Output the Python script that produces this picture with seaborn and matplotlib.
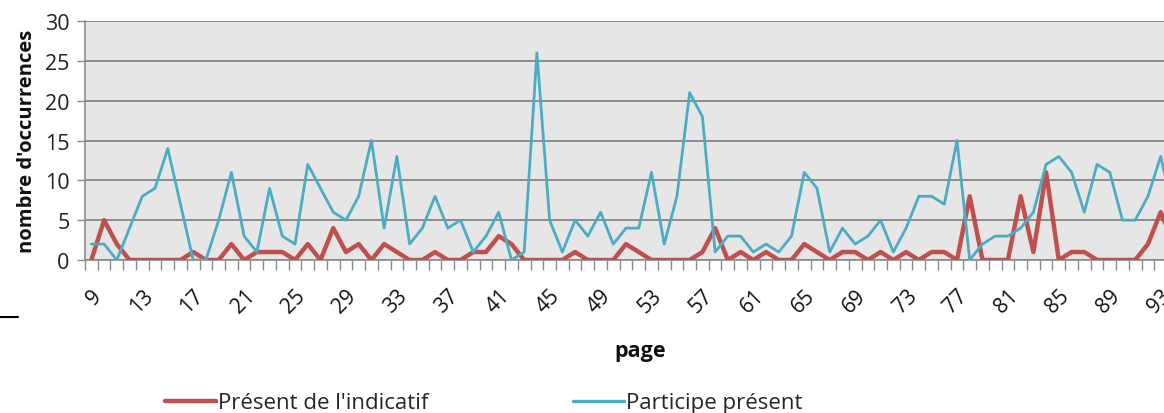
import matplotlib
matplotlib.use("Agg")
import matplotlib.pyplot as plt
from matplotlib.lines import Line2D
import numpy as np
import pandas as pd
import seaborn as sns

# Occurrences per page, pages 9 to 94
pages = list(range(9, 95))
present_indicatif = [
    0, 5, 2, 0, 0, 0, 0, 0, 1, 0, 0, 2, 0, 1, 1, 1, 0, 2, 0, 4,
    1, 2, 0, 2, 1, 0, 0, 1, 0, 0, 1, 1, 3, 2, 0, 0, 0, 0, 1, 0,
    0, 0, 2, 1, 0, 0, 0, 0, 1, 4, 0, 1, 0, 1, 0, 0, 2, 1, 0, 1,
    1, 0, 1, 0, 1, 0, 1, 1, 0, 8, 0, 0, 0, 8, 1, 11, 0, 1, 1, 0,
    0, 0, 0, 2, 6, 2,
]
participe_present = [
    2, 2, 0, 4, 8, 9, 14, 7, 0, 0, 5, 11, 3, 1, 9, 3, 2, 12, 9, 6,
    5, 8, 15, 4, 13, 2, 4, 8, 4, 5, 1, 3, 6, 0, 1, 26, 5, 1, 5, 3,
    6, 2, 4, 4, 11, 2, 8, 21, 18, 1, 3, 3, 1, 2, 1, 3, 11, 9, 1, 4,
    2, 3, 5, 1, 4, 8, 8, 7, 15, 0, 2, 3, 3, 4, 6, 12, 13, 11, 6, 12,
    11, 5, 5, 8, 13, 6,
]
series_names = ["Présent de l'indicatif", "Participe présent"]
series_colors = ["#c0504d", "#4bacc6"]
y_ticks = [0, 5, 10, 15, 20, 25, 30]
label_pages = list(range(9, 94, 4))

df = pd.DataFrame({
    "page": pages * 2,
    "occurrences": present_indicatif + participe_present,
    "série": [series_names[0]] * len(pages) + [series_names[1]] * len(pages),
})

sns.set_theme(style="white")
plt.rcParams["font.family"] = ["Open Sans", "DejaVu Sans"]

W, H = 1164, 414
fig = plt.figure(figsize=(W / 100, H / 100), dpi=100)
left_px, right_px, top_px, bottom_px = 85, 1192.5, 22, 261
ax = fig.add_axes([left_px / W, 1 - bottom_px / H,
                   (right_px - left_px) / W, (bottom_px - top_px) / H])
ax.set_facecolor("#e6e6e6")

widths = [3.2, 2.0]
for name, color, lw, z in zip(series_names, series_colors, widths, [3, 4]):
    sns.lineplot(data=df[df["série"] == name], x="page", y="occurrences",
                 color=color, linewidth=lw, ax=ax, zorder=z, legend=False)

ax.set_xlim(8.5, 95.5)
ax.set_ylim(0, 30)

# horizontal gridlines
ax.set_yticks(y_ticks)
ax.yaxis.grid(True, color="#8c8c8c", linewidth=1.4)
ax.xaxis.grid(False)
ax.set_axisbelow(True)
ax.tick_params(axis="y", length=6, width=1, color="#8c8c8c", direction="out",
               labelsize=15.5, labelcolor="#222222", pad=5, left=True)

# category ticks at boundaries, labels every 4 pages
ax.set_xticks(label_pages)
ax.set_xticklabels([str(p) for p in label_pages], rotation=45, ha="right",
                   rotation_mode="anchor", fontsize=15, color="#111111")
ax.set_xticks(np.arange(8.5, 96, 1.0), minor=True)
ax.tick_params(axis="x", which="major", length=0, pad=18)
ax.tick_params(axis="x", which="minor", length=7, width=1, color="#8c8c8c",
               direction="out", bottom=True)

for side in ["top", "right"]:
    ax.spines[side].set_visible(False)
for side in ["left", "bottom"]:
    ax.spines[side].set_color("#8c8c8c")
    ax.spines[side].set_linewidth(1.2)

ax.set_ylabel("nombre d'occurrences", fontsize=14.5, fontweight="bold",
              color="#111111", labelpad=6)
ax.set_xlabel("")
fig.text(640 / W, 1 - 352 / H, "page", fontsize=15.5, fontweight="bold",
         ha="center", va="center", color="#111111")

handles = [Line2D([], [], color=c, linewidth=lw) for c, lw in zip(series_colors, [3.2, 2.4])]
fig.legend(handles, series_names, loc="center left",
           bbox_to_anchor=(165 / W, 1 - 404 / H), ncol=2, frameon=False,
           fontsize=16, handlelength=2.3, handletextpad=0.1,
           columnspacing=6.5, borderpad=0, borderaxespad=0)

# short rule at the left margin
fig.add_artist(Line2D([0, 18 / W], [1 - 318 / H, 1 - 318 / H],
                      color="black", linewidth=1.5))

fig.savefig("out.png", dpi=100)
